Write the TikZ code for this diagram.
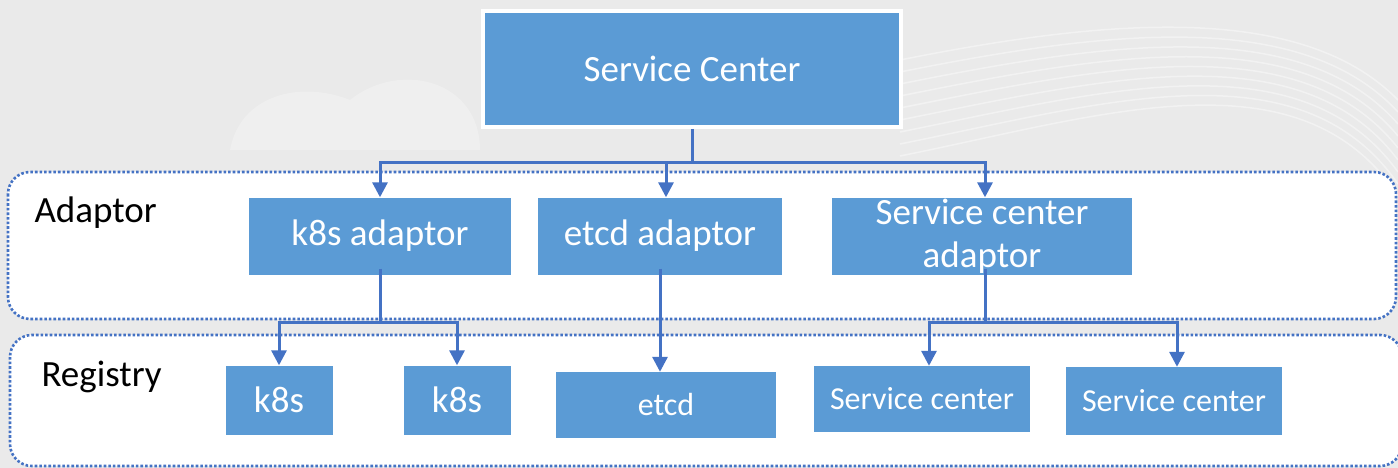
\documentclass[tikz,border=0pt]{standalone}
\usepackage{fontspec}
\setmainfont{Carlito}
\usetikzlibrary{arrows.meta}

\definecolor{boxblue}{HTML}{5B9BD5}
\definecolor{lineblue}{HTML}{4472C4}
\definecolor{backgray}{HTML}{EAEAEA}

\tikzset{
  blk/.style={fill=boxblue, text=white, minimum width=#1, minimum height=77, inner sep=0pt, align=center},
  blk/.default=260,
  small/.style={font=\fontsize{32}{36}\selectfont},
  panel/.style={draw=lineblue, fill=white, line width=2.6, dotted, rounded corners=22},
  link/.style={draw=lineblue, line width=3},
  arr/.style={link, -{Triangle[width=15,length=15]}}
}

\begin{document}
\begin{tikzpicture}[x=1pt, y=-1pt]
        \fontsize{37}{40}\selectfont
        % background
        \fill[backgray] (0,0) rectangle (1398,468);
        \useasboundingbox (0,0) rectangle (1398,468);
        \fill[white, opacity=0.25] (230,150) .. controls (240,95) and (300,80) .. (350,100)
              .. controls (400,60) and (480,80) .. (480,150) -- cycle;
        \foreach \d in {0,12,...,96}
          \draw[white, opacity=0.4, line width=1.5] (900,60+\d) .. controls (1100,20+\d) and (1300,0+\d/2) .. (1398,100+\d);

        % layers
        \draw[panel] (8,172) rectangle (1396,319);
        \draw[panel] (10,335) rectangle (1402,466);
        \node[anchor=west] (lad) at (22,213) {Adaptor};
        \node[anchor=west] (lreg) at (29,377) {Registry};

        % top
        \node[blk=418, minimum height=116, draw=white, line width=4] (sc) at (692,69) {Service Center};

        % adaptors
        \node[blk=262] (ka) at (380,236) {k8s adaptor};
        \node[blk=244] (ea) at (660,236) {etcd adaptor};
        \node[blk=300] (sa) at (982,236) {Service center\\[3pt]adaptor};

        % registries
        \node[blk=107, minimum height=69] (k1) at (279,400) {k8s};
        \node[blk=107, minimum height=69] (k2) at (457,400) {k8s};
        \node[blk=220, minimum height=66, small] (et) at (666,405) {etcd};
        \node[blk=216, minimum height=66, small] (s1) at (922,399) {Service center};
        \node[blk=216, minimum height=68, small] (s2) at (1174,401) {Service center};

        % connectors
        \coordinate (j1) at (692,163);
        \coordinate (j2) at (380,322);
        \coordinate (j3) at (985,322);
        \draw[link] (sc.south) -- (j1);
        \draw[arr] (j1) -| (ka.north);
        \draw[arr] (j1) -| ([xshift=6]ea.north);
        \draw[arr] (j1) -| ([xshift=3]sa.north);
        \draw[link] ([yshift=6]ka.south) -- (j2);
        \draw[arr] (j2) -| (k1.north);
        \draw[arr] (j2) -| (k2.north);
        \draw[arr] ([yshift=6]ea.south) -- (ea.south |- et.north);
        \draw[link] ([xshift=3,yshift=6]sa.south) -- (j3);
        \draw[arr] (j3) -| ([xshift=7]s1.north);
        \draw[arr] (j3) -| ([xshift=3]s2.north);
    \end{tikzpicture}
\end{document}
